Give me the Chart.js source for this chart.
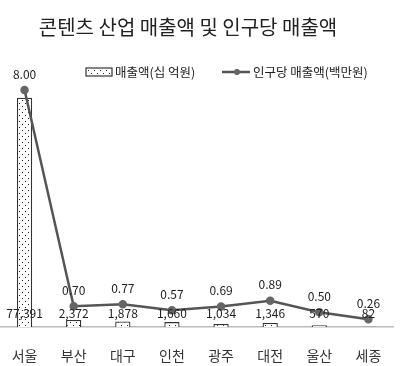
<!DOCTYPE html>
<html>
<head>
<meta charset="utf-8">
<script src="https://cdn.jsdelivr.net/npm/chart.js@4"></script>
<style>
html,body{margin:0;padding:0;background:#fff}
#wrap{width:400px;height:366px;position:relative}
</style>
</head>
<body>
<div id="wrap"><canvas id="chart" width="400" height="366"></canvas></div>
<script>
const regions=['서울','부산','대구','인천','광주','대전','울산','세종'];
const sales=[77391,2372,1878,1660,1034,1346,570,82];
const perCapita=[8.00,0.70,0.77,0.57,0.69,0.89,0.50,0.26];
const salesLabel='매출액(십 억원)';
const perCapitaLabel='인구당 매출액(백만원)';
const titleText='콘텐츠 산업 매출액 및 인구당 매출액';

const FONT='"Noto Sans CJK KR","Noto Sans",sans-serif';

const makeDots=()=>{
  const c=document.createElement('canvas');
  c.width=6;c.height=6;
  const g=c.getContext('2d');
  g.fillStyle='#fff';g.fillRect(0,0,6,6);
  g.fillStyle='#222';
  g.fillRect(1,1,1,1);g.fillRect(4,4,1,1);
  return g.createPattern(c,'repeat');
};
const dots=makeDots();

const decor={
  id:'decor',
  afterDatasetsDraw(chart){
    const ctx=chart.ctx;
    ctx.save();
    // title
    ctx.fillStyle='#222';
    ctx.font='20px '+FONT;
    ctx.textAlign='center';ctx.textBaseline='middle';
    ctx.fillText(titleText,188,27);
    // legend
    ctx.font='12.5px '+FONT;
    ctx.textAlign='left';
    ctx.fillStyle=dots;
    ctx.fillRect(86,68,26,8);
    ctx.strokeStyle='#333';ctx.lineWidth=1.2;
    ctx.strokeRect(86,68,26,8);
    ctx.fillStyle='#222';
    ctx.fillText(salesLabel,115,72);
    ctx.strokeStyle='#555';ctx.lineWidth=2.5;
    ctx.beginPath();ctx.moveTo(222,72);ctx.lineTo(250,72);ctx.stroke();
    ctx.fillStyle='#666';
    ctx.beginPath();ctx.arc(237,72,3,0,Math.PI*2);ctx.fill();
    ctx.fillStyle='#222';
    ctx.fillText(perCapitaLabel,253,72);
    // data labels
    ctx.font='12px '+FONT;
    ctx.textAlign='center';
    const bars=chart.getDatasetMeta(0).data;
    const base=chart.scales.y.getPixelForValue(0);
    bars.forEach((b,i)=>ctx.fillText(sales[i].toLocaleString('en-US'),b.x,base-14));
    const pts=chart.getDatasetMeta(1).data;
    pts.forEach((p,i)=>ctx.fillText(perCapita[i].toFixed(2),p.x,p.y-16));
    ctx.restore();
  }
};

new Chart(document.getElementById('chart'),{
  type:'bar',
  data:{
    labels:regions,
    datasets:[
      {type:'bar',label:salesLabel,data:sales,yAxisID:'y',backgroundColor:dots,borderColor:'#333',borderWidth:1.3,barPercentage:0.31,categoryPercentage:1,order:2},
      {type:'line',label:perCapitaLabel,data:perCapita,yAxisID:'y1',borderColor:'#555',borderWidth:2.5,pointRadius:3,pointBackgroundColor:'#666',pointBorderColor:'#666',tension:0,clip:false,order:1}
    ]
  },
  options:{
    responsive:false,
    animation:false,
    layout:{autoPadding:false,padding:{top:90,left:0,right:7,bottom:-19}},
    plugins:{legend:{display:false},title:{display:false},tooltip:{enabled:false}},
    scales:{
      x:{grid:{display:false,drawTicks:false},border:{color:'#bbb',width:1.5},ticks:{padding:0,color:'#333',font:{family:FONT,size:14,lineHeight:4.14}}},
      y:{display:false,min:0,max:80000},
      y1:{display:false,min:0,max:8}
    }
  },
  plugins:[decor]
});
</script>
</body>
</html>
